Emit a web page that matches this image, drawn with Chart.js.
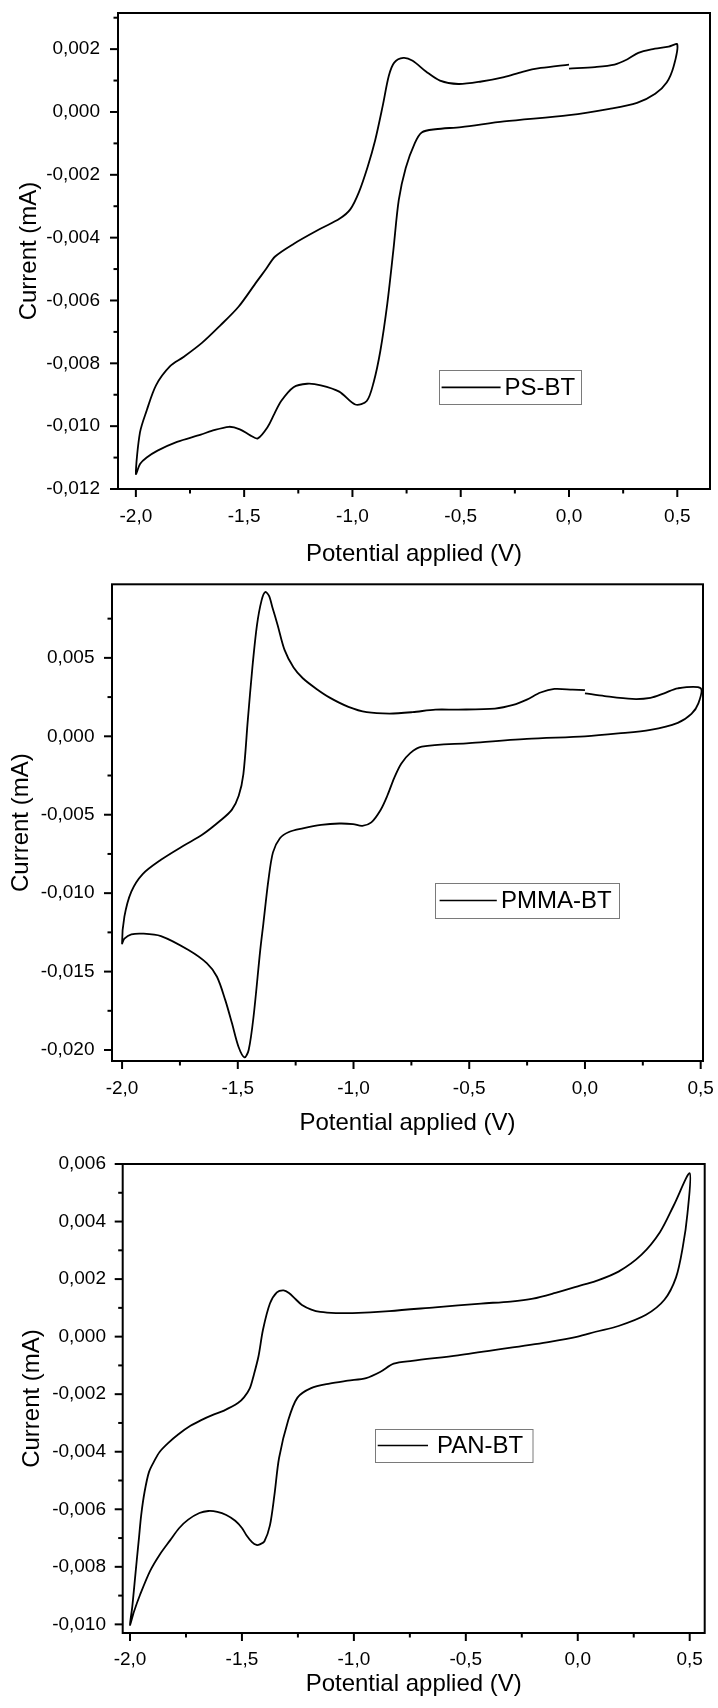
<!DOCTYPE html>
<html><head><meta charset="utf-8">
<script src="https://cdn.jsdelivr.net/npm/chart.js@4.4.1/dist/chart.umd.min.js"></script>
<style>
html,body{margin:0;padding:0;background:#fff;}
#wrap{position:relative;width:718px;height:1708px;overflow:hidden;background:#fff;}
canvas{position:absolute;left:0;}
</style></head><body>
<div id="wrap">
<canvas id="c1" width="718" height="580" style="top:0px"></canvas>
<canvas id="c2" width="718" height="560" style="top:580px"></canvas>
<canvas id="c3" width="718" height="568" style="top:1140px"></canvas>
</div>
<script>
// ---------- DATA ----------
const xTitle = 'Potential applied (V)';
const yTitle = 'Current (mA)';
const xTickValues = [-2.0, -1.5, -1.0, -0.5, 0.0, 0.5];
const xMinorValues = [-1.75, -1.25, -0.75, -0.25, 0.25];

const psLabel = 'PS-BT';
const psYTicks = [-0.012, -0.010, -0.008, -0.006, -0.004, -0.002, 0.000, 0.002];
const psYMinor = [-0.011, -0.009, -0.007, -0.005, -0.003, -0.001, 0.001, 0.003];
const psPotential = [
  0.00, 0.12, 0.21, 0.27, 0.32, 0.38, 0.46, 0.50,
  0.483, 0.451, 0.398, 0.314, 0.187, 0.000, -0.300, -0.498, -0.617, -0.680,
  -0.712, -0.754, -0.786, -0.811, -0.839, -0.871, -0.902, -0.934, -0.987,
  -1.061, -1.146, -1.209, -1.272, -1.329, -1.360, -1.391, -1.437, -1.470,
  -1.520, -1.570, -1.650, -1.700, -1.810, -1.900, -1.950, -1.980, -2.000,
  -1.981, -1.950, -1.907, -1.843, -1.780, -1.695, -1.611, -1.526, -1.442,
  -1.399, -1.357, -1.272, -1.146, -1.060, -1.010, -0.970, -0.930, -0.895,
  -0.860, -0.832, -0.807, -0.765, -0.722, -0.659, -0.596, -0.511, -0.405,
  -0.300, -0.215, -0.130, 0.000
];
const psCurrent = [
  0.00138, 0.00143, 0.00151, 0.00168, 0.00188, 0.00199, 0.00208, 0.00215,
  0.00145, 0.00094, 0.00058, 0.00029, 0.00010, -0.00010, -0.00030, -0.00048, -0.00055, -0.00065,
  -0.00099, -0.00178, -0.00280, -0.00440, -0.00610, -0.00760, -0.00860, -0.00920, -0.00931,
  -0.00890, -0.00870, -0.00865, -0.00876, -0.00920, -0.00960, -0.01002, -0.01039, -0.01030,
  -0.01010, -0.01002, -0.01015, -0.01027, -0.01050, -0.01078, -0.01100, -0.01120, -0.01152,
  -0.01020, -0.00950, -0.00870, -0.00810, -0.00780, -0.00735, -0.00680, -0.00620, -0.00540,
  -0.00500, -0.00460, -0.00420, -0.00371, -0.00340, -0.00310, -0.00255, -0.00175, -0.00090,
  0.00020, 0.00115, 0.00157, 0.00172, 0.00163, 0.00128, 0.00100, 0.00089, 0.00097,
  0.00111, 0.00128, 0.00140, 0.00151
];

const pmmaLabel = 'PMMA-BT';
const pmmaYTicks = [-0.020, -0.015, -0.010, -0.005, 0.000, 0.005];
const pmmaYMinor = [-0.0175, -0.0125, -0.0075, -0.0025, 0.0025, 0.0075];
const pmmaPotential = [
  0.000, 0.085, 0.204, 0.283, 0.342, 0.401, 0.500,
  0.490, 0.460, 0.401, 0.283, 0.144, 0.000, -0.251, -0.500, -0.705, -0.755,
  -0.794, -0.824, -0.854, -0.883, -0.923, -0.962, -1.002, -1.061, -1.140,
  -1.219, -1.279, -1.318, -1.348, -1.368, -1.390, -1.403, -1.432, -1.453,
  -1.471, -1.497, -1.525, -1.554, -1.590, -1.633, -1.713, -1.832, -1.911,
  -1.960, -1.990, -2.000,
  -1.990, -1.960, -1.911, -1.832, -1.733, -1.654, -1.575, -1.526, -1.496,
  -1.476, -1.457, -1.437, -1.417, -1.397, -1.381, -1.365, -1.350, -1.328,
  -1.298, -1.259, -1.219, -1.160, -1.101, -1.022, -0.943, -0.844, -0.745,
  -0.646, -0.547, -0.389, -0.310, -0.251, -0.192, -0.132, -0.053, 0.000
];
const pmmaCurrent = [
  0.00274, 0.00256, 0.00238, 0.00245, 0.00274, 0.00306, 0.00306,
  0.00210, 0.00143, 0.00086, 0.00041, 0.00018, 0.00000, -0.00016, -0.00043, -0.00066, -0.00107,
  -0.00175, -0.00265, -0.00379, -0.00470, -0.00549, -0.00571, -0.00560, -0.00556, -0.00565,
  -0.00587, -0.00610, -0.00650, -0.00740, -0.00920, -0.01200, -0.01363, -0.01788, -0.02000,
  -0.02047, -0.01979, -0.01830, -0.01682, -0.01533, -0.01448, -0.01363, -0.01274, -0.01258,
  -0.01263, -0.01290, -0.01320,
  -0.01150, -0.00990, -0.00878, -0.00787, -0.00696, -0.00628, -0.00537, -0.00469, -0.00379,
  -0.00243, 0.00098, 0.00438, 0.00710, 0.00868, 0.00920, 0.00895, 0.00820, 0.00710,
  0.00551, 0.00438, 0.00370, 0.00302, 0.00245, 0.00188, 0.00154, 0.00145, 0.00154,
  0.00170, 0.00170, 0.00177, 0.00200, 0.00234, 0.00279, 0.00302, 0.00297, 0.00294
];

const panLabel = 'PAN-BT';
const panYTicks = [-0.010, -0.008, -0.006, -0.004, -0.002, 0.000, 0.002, 0.004, 0.006];
const panYMinor = [-0.009, -0.007, -0.005, -0.003, -0.001, 0.001, 0.003, 0.005];
const panPotential = [
  0.000, 0.080, 0.182, 0.285, 0.367, 0.428, 0.500,
  0.490, 0.469, 0.439, 0.387, 0.305, 0.182, 0.080, 0.000, -0.125, -0.330,
  -0.535, -0.740, -0.822, -0.883, -0.945, -1.027, -1.109, -1.191, -1.252,
  -1.293, -1.334, -1.355, -1.375, -1.400, -1.420, -1.435, -1.455, -1.480,
  -1.500, -1.530, -1.570, -1.610, -1.650, -1.690, -1.740, -1.780, -1.821,
  -1.866, -1.910, -1.955, -1.982, -2.000,
  -1.990, -1.980, -1.970, -1.960, -1.950, -1.935, -1.915, -1.890, -1.867,
  -1.830, -1.785, -1.730, -1.682, -1.630, -1.580, -1.518, -1.490, -1.465,
  -1.447, -1.426, -1.406, -1.375, -1.344, -1.314, -1.290, -1.260, -1.232,
  -1.190, -1.150, -1.080, -1.006, -0.842, -0.637, -0.432, -0.300, -0.200,
  -0.100, 0.000
];
const panCurrent = [
  0.00175, 0.00193, 0.00226, 0.00285, 0.00363, 0.00455, 0.00568,
  0.00428, 0.00311, 0.00206, 0.00128, 0.00076, 0.00037, 0.00017, 0.00000, -0.00018, -0.00042,
  -0.00065, -0.00084, -0.00094, -0.00123, -0.00144, -0.00153, -0.00163, -0.00179, -0.00212,
  -0.00290, -0.00421, -0.00551, -0.00656, -0.00712, -0.00722, -0.00724, -0.00714, -0.00690,
  -0.00665, -0.00640, -0.00620, -0.00609, -0.00606, -0.00613, -0.00636, -0.00665, -0.00708,
  -0.00756, -0.00814, -0.00897, -0.00955, -0.01002,
  -0.00940, -0.00860, -0.00779, -0.00700, -0.00620, -0.00540, -0.00470, -0.00430, -0.00400,
  -0.00370, -0.00340, -0.00310, -0.00290, -0.00272, -0.00257, -0.00231, -0.00210, -0.00180,
  -0.00133, -0.00068, 0.00024, 0.00115, 0.00154, 0.00161, 0.00152, 0.00130, 0.00110,
  0.00094, 0.00086, 0.00082, 0.00082, 0.00089, 0.00102, 0.00115, 0.00122, 0.00132,
  0.00152, 0.00175
];

// ---------- RENDER ----------
const FONT = '"Liberation Sans", Arial, Helvetica, sans-serif';
Chart.defaults.font.family = FONT;
Chart.defaults.color = '#000';

function fmt(v, d) {
  const s = Math.abs(v).toFixed(d).replace('.', ',');
  return (v < -1e-12 ? '-' : '') + s;
}

const framePlugin = {
  id: 'cvFrame',
  afterDraw(chart, args, o) {
    const ctx = chart.ctx, a = chart.chartArea, xs = chart.scales.x, ys = chart.scales.y;
    ctx.save();
    ctx.strokeStyle = '#000';
    ctx.lineWidth = 2;
    const seg = (x1, y1, x2, y2) => { ctx.beginPath(); ctx.moveTo(x1, y1); ctx.lineTo(x2, y2); ctx.stroke(); };
    o.xMajor.forEach(v => { const p = xs.getPixelForValue(v); seg(p, a.bottom, p, a.bottom + o.majorLen); });
    o.xMinor.forEach(v => { const p = xs.getPixelForValue(v); seg(p, a.bottom, p, a.bottom + o.minorLen); });
    o.yMajor.forEach(v => { const p = ys.getPixelForValue(v); seg(a.left, p, a.left - o.majorLen, p); });
    o.yMinor.forEach(v => { const p = ys.getPixelForValue(v); if (p >= a.top - 0.5 && p <= a.bottom + 0.5) seg(a.left, p, a.left - o.minorLen, p); });
    ctx.strokeRect(a.left, a.top, a.right - a.left, a.bottom - a.top);
    // legend box
    const L = o.legend;
    const bx = a.left + L.dx, by = a.top + L.dy;
    ctx.lineWidth = 1; ctx.strokeStyle = '#7a7a7a';
    ctx.strokeRect(Math.round(bx) + 0.5, Math.round(by) + 0.5, L.w, L.h);
    const ds = chart.data.datasets[0];
    ctx.strokeStyle = ds.borderColor; ctx.lineWidth = 1.6;
    seg(bx + L.lineStart, by + L.h / 2, bx + L.lineEnd, by + L.h / 2);
    ctx.fillStyle = '#000';
    ctx.font = '24px ' + FONT;
    ctx.textBaseline = 'middle'; ctx.textAlign = 'left';
    ctx.fillText(ds.label, bx + L.textStart, by + L.h / 2 + 1);
    ctx.restore();
  }
};

function zeroPad(s) { s.paddingTop = 0; s.paddingBottom = 0; s.paddingLeft = 0; s.paddingRight = 0; }

function makeChart(c) {
  const canvas = document.getElementById(c.id);
  new Chart(canvas, {
    type: 'scatter',
    data: {
      datasets: [{
        label: c.label,
        data: c.potential.map((x, i) => ({ x: x, y: c.current[i] })),
        showLine: true, borderColor: '#000', backgroundColor: '#000',
        borderWidth: 1.8, pointRadius: 0, pointHoverRadius: 0,
        tension: 0.3, fill: false
      }]
    },
    options: {
      responsive: false, animation: false, devicePixelRatio: 1, events: [],
      layout: { padding: { top: c.padTop, right: c.padRight, left: 0, bottom: 0 } },
      plugins: {
        legend: { display: false }, tooltip: { enabled: false },
        cvFrame: { xMajor: xTickValues, xMinor: xMinorValues, yMajor: c.yTicks, yMinor: c.yMinor,
                   majorLen: 8, minorLen: 4.5, legend: c.legend }
      },
      scales: {
        x: {
          type: 'linear', position: 'bottom', min: c.xMin, max: c.xMax,
          afterBuildTicks: s => { s.ticks = xTickValues.map(v => ({ value: v })); },
          afterFit: s => { s.height = c.xAxisH; zeroPad(s); },
          grid: { display: false, drawTicks: false }, border: { display: false },
          ticks: { autoSkip: false, maxRotation: 0, padding: c.xLabelPad, font: { size: 19 }, color: '#000',
                   callback: v => fmt(v, 1) },
          title: { display: true, text: xTitle, font: { size: 24 }, color: '#000', padding: { top: 0, bottom: c.xTitlePad } }
        },
        y: {
          type: 'linear', position: 'left', min: c.yMin, max: c.yMax,
          afterBuildTicks: s => { s.ticks = c.yTicks.map(v => ({ value: v })); },
          afterFit: s => { s.width = c.yAxisW; zeroPad(s); },
          grid: { display: false, drawTicks: false }, border: { display: false },
          ticks: { autoSkip: false, padding: c.yLabelPad, font: { size: 19 }, color: '#000',
                   callback: v => fmt(v, 3) },
          title: { display: true, text: yTitle, font: { size: 24 }, color: '#000', padding: { top: c.yTitlePad, bottom: 0 } }
        }
      }
    },
    plugins: [framePlugin]
  });
}

makeChart({ id: 'c1', label: psLabel, potential: psPotential, current: psCurrent,
  yTicks: psYTicks, yMinor: psYMinor,
  xMin: -2.0825, xMax: 0.651, yMin: -0.012, yMax: 0.00315,
  padTop: 13, padRight: 8, yAxisW: 118, xAxisH: 91,
  xLabelPad: 16.5, yLabelPad: 18, xTitlePad: 11.5, yTitlePad: 15,
  legend: { dx: 320.6, dy: 357.4, w: 142, h: 34, lineStart: 3, lineEnd: 62, textStart: 66 } });

makeChart({ id: 'c2', label: pmmaLabel, potential: pmmaPotential, current: pmmaCurrent,
  yTicks: pmmaYTicks, yMinor: pmmaYMinor,
  xMin: -2.0435, xMax: 0.51, yMin: -0.0207, yMax: 0.00969,
  padTop: 4.3, padRight: 15, yAxisW: 112, xAxisH: 79,
  xLabelPad: 16, yLabelPad: 17.5, xTitlePad: 2.6, yTitlePad: 6.5,
  legend: { dx: 323, dy: 298.7, w: 184, h: 35, lineStart: 4.6, lineEnd: 61.8, textStart: 66 } });

makeChart({ id: 'c3', label: panLabel, potential: panPotential, current: panCurrent,
  yTicks: panYTicks, yMinor: panYMinor,
  xMin: -2.0326, xMax: 0.567, yMin: -0.0103, yMax: 0.006,
  padTop: 24, padRight: 13.3, yAxisW: 122.7, xAxisH: 75,
  xLabelPad: 15, yLabelPad: 16.7, xTitlePad: 9, yTitlePad: 18,
  legend: { dx: 251.8, dy: 265, w: 157.5, h: 33, lineStart: 3.2, lineEnd: 53.5, textStart: 62.5 } });
</script>
</body></html>
